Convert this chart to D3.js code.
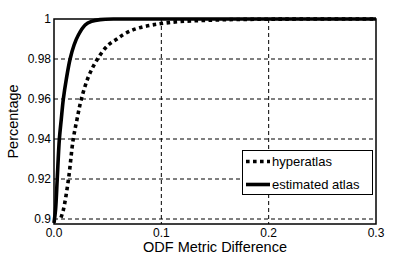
<!DOCTYPE html>
<html>
<head>
<meta charset="utf-8">
<script src="https://cdn.jsdelivr.net/npm/d3@7"></script>
<style>
  html, body { margin: 0; padding: 0; background: #fff; }
  svg { display: block; font-family: "Liberation Sans", Arial, sans-serif; }
</style>
</head>
<body>
<svg id="chart" width="415" height="257"></svg>
<script>
// values
const xTicks = [0, 0.1, 0.2, 0.3];
const xTickLabels = ["0.0", "0.1", "0.2", "0.3"];
const yTicks = [0.9, 0.92, 0.94, 0.96, 0.98, 1];
const yTickLabels = ["0.9", "0.92", "0.94", "0.96", "0.98", "1"];

const estX = [0, 0.0015, 0.003, 0.005, 0.0068, 0.0087, 0.0115, 0.015, 0.0187, 0.0227, 0.029, 0.035, 0.043, 0.06, 0.1, 0.2, 0.3];
const estY = [0.898, 0.905, 0.92, 0.94, 0.95, 0.96, 0.97, 0.98, 0.987, 0.992, 0.997, 0.9988, 0.9997, 1, 1, 1, 1];

const hypX = [0.0065, 0.0087, 0.0134, 0.0178, 0.0215, 0.0255, 0.032, 0.0405, 0.0505, 0.0586, 0.0664, 0.0788, 0.1068, 0.15, 0.2, 0.3];
const hypY = [0.9007, 0.9045, 0.9195, 0.9395, 0.95, 0.96, 0.971, 0.98, 0.987, 0.99, 0.9928, 0.9955, 0.9982, 0.9995, 0.9999, 1];

const seriesNames = ["hyperatlas", "estimated atlas"];

const svg = d3.select("#chart");
const box = { left: 54, right: 376, top: 19, bottom: 224 };

const x = d3.scaleLinear().domain([0, 0.3]).range([box.left, box.right]);
const y = d3.scaleLinear().domain([0.8975, 1]).range([box.bottom, box.top]);

// dashed grid
svg.append("g")
  .selectAll("line.gy")
  .data(yTicks.filter(d => d < 1))
  .join("line")
  .attr("x1", box.left).attr("x2", box.right)
  .attr("y1", d => y(d)).attr("y2", d => y(d))
  .attr("stroke", "#000").attr("stroke-width", 1)
  .attr("stroke-dasharray", "4 3");

svg.append("g")
  .selectAll("line.gx")
  .data(xTicks.filter(d => d > 0 && d < 0.3))
  .join("line")
  .attr("x1", d => x(d)).attr("x2", d => x(d))
  .attr("y1", box.top).attr("y2", box.bottom)
  .attr("stroke", "#000").attr("stroke-width", 1)
  .attr("stroke-dasharray", "4 3");

// curves
const line = d3.line().x(d => x(d[0])).y(d => y(d[1])).curve(d3.curveCatmullRom.alpha(0.5));

svg.append("path")
  .datum(d3.zip(hypX, hypY))
  .attr("d", line)
  .attr("fill", "none").attr("stroke", "#000")
  .attr("stroke-width", 3.6)
  .attr("stroke-dasharray", "3.6 3.4");

svg.append("path")
  .datum(d3.zip(estX, estY))
  .attr("d", line)
  .attr("fill", "none").attr("stroke", "#000")
  .attr("stroke-width", 3.6)
  .attr("stroke-linejoin", "round");

// box
svg.append("rect")
  .attr("x", box.left).attr("y", box.top)
  .attr("width", box.right - box.left).attr("height", box.bottom - box.top)
  .attr("fill", "none").attr("stroke", "#000").attr("stroke-width", 1.5);

// tick labels
svg.append("g")
  .selectAll("text")
  .data(yTicks)
  .join("text")
  .attr("x", box.left - 3)
  .attr("y", d => y(d))
  .attr("dy", "0.36em")
  .attr("text-anchor", "end")
  .attr("font-size", 12)
  .text((d, i) => yTickLabels[i]);

svg.append("g")
  .selectAll("text")
  .data(xTicks)
  .join("text")
  .attr("x", d => x(d))
  .attr("y", 237)
  .attr("text-anchor", "middle")
  .attr("font-size", 12)
  .text((d, i) => xTickLabels[i]);

// axis titles
svg.append("text")
  .attr("x", (box.left + box.right) / 2).attr("y", 252)
  .attr("text-anchor", "middle").attr("font-size", 14.5)
  .text("ODF Metric Difference");

svg.append("text")
  .attr("transform", `translate(18,${(box.top + box.bottom) / 2}) rotate(-90)`)
  .attr("text-anchor", "middle").attr("font-size", 14.5)
  .text("Percentage");

// legend
const lg = svg.append("g");
lg.append("rect")
  .attr("x", 242.5).attr("y", 150.5).attr("width", 130).attr("height", 44)
  .attr("fill", "#fff").attr("stroke", "#000").attr("stroke-width", 1);

const rows = lg.selectAll("g.row")
  .data(seriesNames)
  .join("g")
  .attr("transform", (d, i) => `translate(0,${161.5 + i * 23})`);

rows.append("line")
  .attr("x1", 246).attr("x2", 270)
  .attr("stroke", "#000").attr("stroke-width", 3.6)
  .attr("stroke-dasharray", (d, i) => i === 0 ? "3.6 3.4" : null);

rows.append("text")
  .attr("x", 272).attr("dy", "0.36em")
  .attr("font-size", 13)
  .text(d => d);
</script>
</body>
</html>
